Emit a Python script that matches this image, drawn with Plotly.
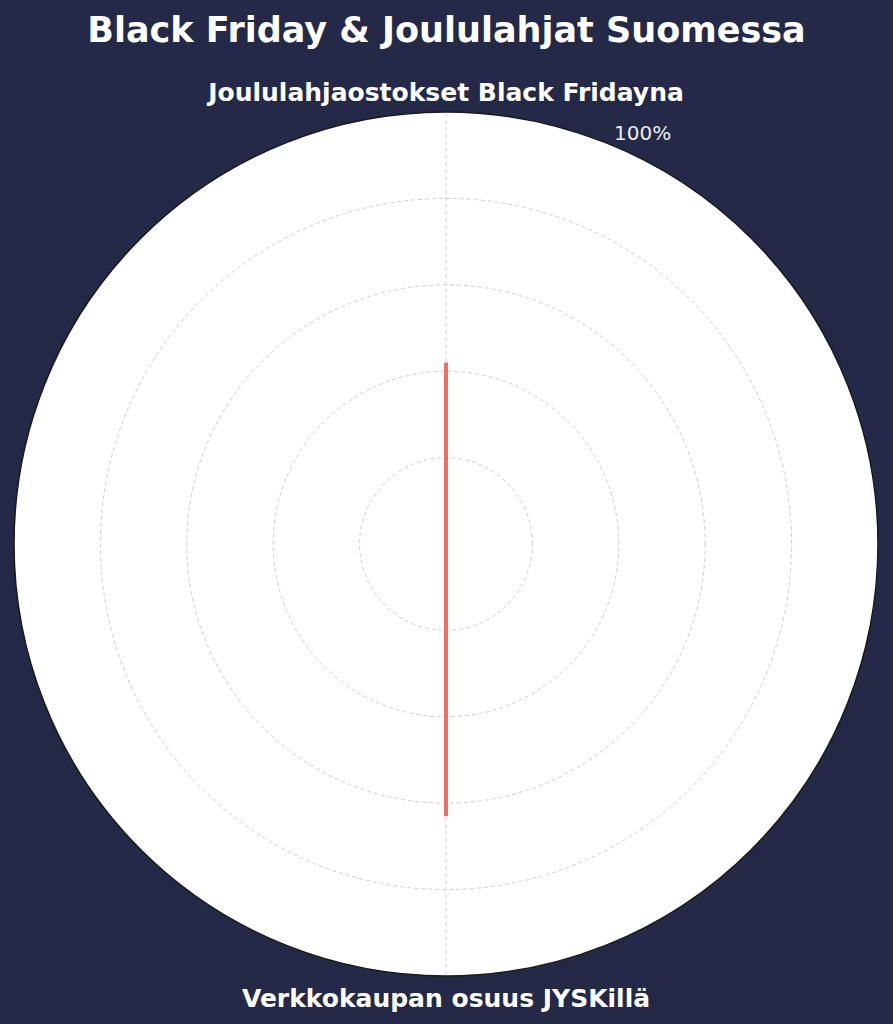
import plotly.graph_objects as go

# data
categories = ["Joululahjaostokset Black Fridayna", "Verkkokaupan osuus JYSKillä"]
values = [42, 63]
radial_ticks = [20, 40, 60, 80, 100]

bg = "#232946"

fig = go.Figure()

# close the loop like a radar chart
fig.add_trace(go.Scatterpolar(
    r=values + values[:1],
    theta=categories + categories[:1],
    mode="lines",
    line=dict(color="#ea6f6e", width=4),
    hoverinfo="skip",
    showlegend=False,
))

fig.update_layout(
    width=893, height=1024,
    paper_bgcolor=bg,
    font=dict(family="DejaVu Sans", color="white"),
    title=dict(
        text="<b>Black Friday & Joululahjat Suomessa</b>",
        x=0.5, xanchor="center", y=0.971, yanchor="middle",
        font=dict(size=35, color="white"),
    ),
    margin=dict(l=14, r=15, t=112, b=48),
    polar=dict(
        bgcolor="white",
        domain=dict(x=[0, 1], y=[0, 1]),
        angularaxis=dict(
            rotation=90, direction="clockwise",
            showline=True, linecolor="#1a1a1a", linewidth=1.5,
            showgrid=True, gridcolor="#cccccc", griddash="4px,3px", gridwidth=1,
            ticks="", tickfont=dict(size=25, color="white", family="DejaVu Sans"),
            tickprefix="<b>", ticksuffix="</b>",
        ),
        radialaxis=dict(
            range=[0, 100],
            tickvals=radial_ticks,
            showticklabels=False,
            showline=False, ticks="",
            showgrid=True, gridcolor="#cccccc", griddash="4px,3px", gridwidth=1,
        ),
    ),
    # the other radial labels are white on white, only the outer one shows
    annotations=[dict(
        text="100%", x=0.727, y=0.976, xref="paper", yref="paper",
        xanchor="center", yanchor="middle", showarrow=False,
        font=dict(size=20, color="#eeeeee"),
    )],
)

fig.write_html("out.html", config={"displayModeBar": False},
               post_script="document.body.style.margin='0';")
